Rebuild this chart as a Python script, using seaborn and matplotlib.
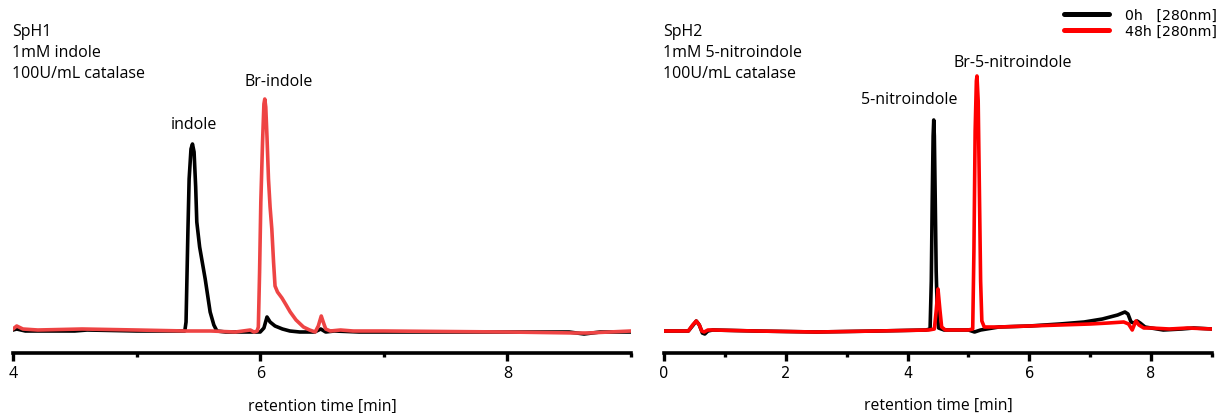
import matplotlib
matplotlib.use("Agg")
import matplotlib.pyplot as plt
from matplotlib.lines import Line2D
import seaborn as sns
import pandas as pd

# --- SpH1 / indole trace (signal, arbitrary units above baseline) ---
t_sph1_0h = [4.00, 4.03, 4.10, 4.50, 4.60, 5.00, 5.30, 5.39, 5.40, 5.415, 5.425, 5.44, 5.452,
             5.465, 5.478, 5.487, 5.51, 5.555, 5.595, 5.625, 5.65, 5.72, 5.90, 6.00, 6.03,
             6.055, 6.08, 6.12, 6.18, 6.24, 6.32, 6.44, 6.49, 6.53, 6.60, 6.80, 7.00, 7.50,
             8.00, 8.50, 8.62, 8.75, 9.00]
y_sph1_0h = [2, 3, 1, 1, 2, 1, 1, 1, 10, 100, 153, 183, 188,
             180, 145, 110, 85, 53, 20, 7, 1, 0, 0, 0, 4,
             15, 10, 6, 3, 1, 0, 0, 3, 0, 1, 0, 0, 0,
             0, 0, -2, 0, 0]

t_sph1_48h = [4.00, 4.03, 4.08, 4.20, 4.56, 5.00, 5.40, 5.60, 5.80, 5.92, 5.95, 5.975, 5.985,
              5.995, 6.005, 6.019, 6.03, 6.037, 6.045, 6.055, 6.067, 6.08, 6.094, 6.108,
              6.12, 6.14, 6.176, 6.21, 6.243, 6.29, 6.35, 6.40, 6.445, 6.47, 6.494, 6.51,
              6.53, 6.567, 6.65, 6.75, 7.00, 8.00, 8.55, 8.65, 9.00]
y_sph1_48h = [3, 6, 3, 2, 3, 2, 1, 1, 0, 2, 0, 1, 5,
              60, 130, 190, 228, 233, 225, 195, 153, 125, 103, 70,
              46, 40, 34, 27, 20, 12, 5, 2, 0, 6, 16, 10,
              3, 1, 2, 1, 1, 0, -1, -1, 1]

# --- SpH2 / 5-nitroindole trace ---
t_sph2_0h = [0.00, 0.40, 0.48, 0.53, 0.58, 0.63, 0.67, 0.72, 0.80, 1.50, 2.50, 3.50, 4.30,
             4.37, 4.39, 4.405, 4.42, 4.43, 4.44, 4.455, 4.47, 4.49, 4.51, 4.60, 5.00, 5.10,
             5.20, 5.50, 6.00, 6.50, 6.90, 7.20, 7.45, 7.57, 7.62, 7.67, 7.72, 7.77, 7.82,
             7.90, 8.00, 8.20, 8.50, 8.70, 9.00]
y_sph2_0h = [0, 0, 6, 10, 6, -2, -3, 0, 1, 0, -1, 0, 1,
             2, 50, 130, 195, 211, 195, 130, 60, 15, 3, 1, 1, -1,
             1, 4, 5, 7, 9, 12, 16, 19, 17, 9, 8, 10, 8,
             4, 3, 1, 2, 3, 2]

t_sph2_48h = [0.00, 0.40, 0.47, 0.53, 0.58, 0.62, 0.66, 0.72, 0.80, 1.50, 2.50, 3.50, 4.35,
              4.44, 4.47, 4.50, 4.53, 4.56, 4.62, 5.00, 5.07, 5.09, 5.11, 5.13, 5.14, 5.16,
              5.18, 5.20, 5.22, 5.26, 5.50, 6.00, 6.50, 7.00, 7.30, 7.55, 7.63, 7.69, 7.75,
              7.80, 7.88, 8.00, 8.30, 8.60, 9.00]
y_sph2_48h = [0, 0, 6, 10, 6, 0, -1, 1, 1, 0, -1, 0, 1,
              2, 20, 42, 22, 4, 1, 1, 2, 80, 200, 250, 255, 230,
              140, 50, 10, 4, 4, 5, 6, 7, 8, 9, 7, 1, 10,
              6, 3, 3, 2, 3, 2]

series_labels = ["0h", "48h"]
legend_labels = ["0h   [280nm]", "48h [280nm]"]

sample_text = ["SpH1\n1mM indole\n100U/mL catalase",
               "SpH2\n1mM 5-nitroindole\n100U/mL catalase"]
peak_names_1 = ["indole", "Br-indole"]
peak_names_2 = ["5-nitroindole", "Br-5-nitroindole"]

sns.set_style("white")
plt.rcParams["font.family"] = ["Open Sans", "DejaVu Sans"]
plt.rcParams["text.color"] = "black"
plt.rcParams["axes.labelcolor"] = "black"
plt.rcParams["xtick.color"] = "black"

W, H = 1228, 414
fig = plt.figure(figsize=(W / 100, H / 100), dpi=100)


def frame(t0, y0, t1, y1):
    return pd.concat([
        pd.DataFrame({"t": t0, "signal": y0, "run": series_labels[0]}),
        pd.DataFrame({"t": t1, "signal": y1, "run": series_labels[1]}),
    ], ignore_index=True)


def style_axis(ax, xlim, ylim, majors, minors, tick_font, tick_size):
    ax.set_xlim(*xlim)
    ax.set_ylim(*ylim)
    for s in ("left", "right", "top"):
        ax.spines[s].set_visible(False)
    ax.spines["bottom"].set_linewidth(2.6)
    ax.spines["bottom"].set_color("black")
    ax.set_yticks([])
    ax.set_xticks(majors)
    ax.set_xticks(minors, minor=True)
    ax.tick_params(axis="x", which="major", direction="out", length=5.5, width=2.4,
                   pad=3, bottom=True)
    ax.tick_params(axis="x", which="minor", direction="out", length=3, width=2.4, bottom=True)
    for lab in ax.get_xticklabels():
        lab.set_fontfamily(tick_font)
        lab.set_fontsize(tick_size)
    ax.set_xlabel("retention time [min]", fontsize=11.3, labelpad=12)
    ax.set_ylabel("")


bottom = 60 / H
ax1 = fig.add_axes([13 / W, bottom, (631 - 13) / W, 1 - bottom])
ax2 = fig.add_axes([664 / W, bottom, (1212 - 664) / W, 1 - bottom])

df1 = frame(t_sph1_0h, y_sph1_0h, t_sph1_48h, y_sph1_48h)
sns.lineplot(data=df1, x="t", y="signal", hue="run", hue_order=series_labels,
             palette=["black", "#ee4444"], linewidth=2.6, sort=False,
             legend=False, ax=ax1)
style_axis(ax1, (4, 9.0), (-21, 333), [4, 6, 8], [5, 7, 9], "Open Sans", 11.5)

df2 = frame(t_sph2_0h, y_sph2_0h, t_sph2_48h, y_sph2_48h)
sns.lineplot(data=df2, x="t", y="signal", hue="run", hue_order=series_labels,
             palette=["black", "#ff0000"], linewidth=2.6, sort=False,
             legend=False, ax=ax2)
style_axis(ax2, (0, 9.0), (-22, 332), [0, 2, 4, 6, 8], [1, 3, 5, 7, 9], "DejaVu Sans", 10.5)

for ax, txt in ((ax1, sample_text[0]), (ax2, sample_text[1])):
    ax.text(-0.0015, 1 - 24 / 354, txt, transform=ax.transAxes, ha="left", va="top",
            fontsize=11.5, linespacing=1.43)

# peak labels placed above each apex
ax1.text(5.46, 188 + 12, peak_names_1[0], ha="center", va="bottom", fontsize=11.5)
ax1.text(6.15, 233 + 10, peak_names_1[1], ha="center", va="bottom", fontsize=11.5)
ax2.text(4.02, 211 + 13, peak_names_2[0], ha="center", va="bottom", fontsize=11.5)
ax2.text(5.72, 255 + 6, peak_names_2[1], ha="center", va="bottom", fontsize=11.5)

handles = [Line2D([], [], color="black", linewidth=3.6),
           Line2D([], [], color="#ff0000", linewidth=3.6)]
fig.legend(handles, legend_labels, loc="upper right",
           bbox_to_anchor=(1217 / W, 1 - 9 / H),
           frameon=False, prop={"family": "DejaVu Sans", "size": 10.2},
           handlelength=3.2, handletextpad=1.15, labelspacing=0.12,
           borderaxespad=0.0, borderpad=0.0)

fig.savefig("out.png", dpi=100)
